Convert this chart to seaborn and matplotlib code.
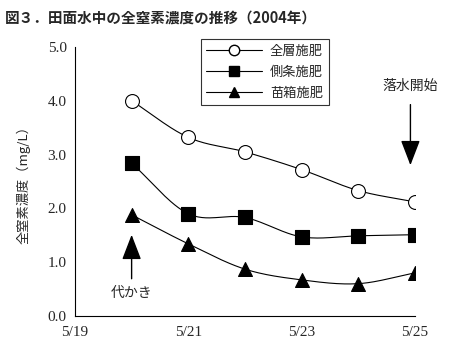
import seaborn as sns
import pandas as pd
import matplotlib.pyplot as plt
import numpy as np
from matplotlib.lines import Line2D

sns.set_theme(style='white')
plt.rcParams['font.family'] = ['Noto Sans CJK JP', 'DejaVu Sans']

# data
days = [20, 21, 22, 23, 24, 25]          # May
zenso = [4.00, 3.32, 3.05, 2.72, 2.33, 2.12]   # 全層施肥
sokujo = [2.84, 1.90, 1.83, 1.47, 1.49, 1.51]  # 側条施肥
naebako = [1.88, 1.34, 0.87, 0.67, 0.60, 0.80]  # 苗箱施肥
series = ['全層施肥', '側条施肥', '苗箱施肥']
tick_days = [19, 21, 23, 25]
tick_labels = ['5/19', '5/21', '5/23', '5/25']

x = np.array(days) - 19
df = pd.DataFrame({'x': np.tile(x, 3),
                   'y': zenso + sokujo + naebako,
                   'series': np.repeat(series, len(x))})


def smooth(px, py, n=30):
    # Catmull-Rom curve through the points (like Excel's smoothed line)
    px = np.asarray(px, float)
    py = np.asarray(py, float)
    P = np.column_stack([px, py])
    P = np.vstack([2 * P[0] - P[1], P, 2 * P[-1] - P[-2]])
    out = []
    t = np.linspace(0, 1, n)[:, None]
    for i in range(1, len(P) - 2):
        p0, p1, p2, p3 = P[i - 1], P[i], P[i + 1], P[i + 2]
        seg = 0.5 * ((2 * p1) + (-p0 + p2) * t + (2 * p0 - 5 * p1 + 4 * p2 - p3) * t ** 2
                     + (-p0 + 3 * p1 - 3 * p2 + p3) * t ** 3)
        out.append(seg)
    out = np.vstack(out)
    return out[:, 0], out[:, 1]


fig = plt.figure(figsize=(4.57, 3.53), dpi=100)
ax = fig.add_axes([0.164, 0.105, 0.744, 0.762])

for vals in [zenso, sokujo, naebako]:
    sx, sy = smooth(x, vals)
    ax.plot(sx, sy, color='black', lw=0.8, zorder=2)

markers = {'全層施肥': 'o', '側条施肥': 's', '苗箱施肥': '^'}
fills = {'全層施肥': 'white', '側条施肥': 'black', '苗箱施肥': 'black'}
for name in series:
    sub = df[df['series'] == name]
    sns.scatterplot(data=sub, x='x', y='y', marker=markers[name], s=100,
                    color=fills[name], edgecolor='black', linewidth=0.8,
                    zorder=3, ax=ax, legend=False)

ax.set_xlim(0, 6)
ax.set_ylim(0, 5)
ax.set_xticks(np.array(tick_days) - 19)
ax.set_xticklabels(tick_labels)
ax.set_yticks(np.arange(0, 5.01, 1.0))
ax.set_yticklabels([f'{v:.1f}' for v in np.arange(0, 5.01, 1.0)])
for lab in ax.get_xticklabels() + ax.get_yticklabels():
    lab.set_family(['Liberation Serif'])
    lab.set_fontsize(11)
ax.tick_params(axis='both', direction='in', length=4, width=0.8, color='black')
ax.tick_params(axis='y', pad=6)
ax.tick_params(axis='x', pad=7)
ax.set_xlabel('')
ax.set_ylabel('全窒素濃度（mg/L）', fontsize=9.5, labelpad=12)
for s in ['top', 'right']:
    ax.spines[s].set_visible(False)
for s in ['left', 'bottom']:
    ax.spines[s].set_color('black')
    ax.spines[s].set_linewidth(0.8)

# arrows
arrow = dict(arrowstyle='-|>,head_length=1.3,head_width=0.5', color='black', lw=1)
ax.annotate('', xy=(1, 1.56), xytext=(1, 0.64), arrowprops=arrow)
ax.text(1, 0.43, '代かき', ha='center', va='center', fontsize=10)
ax.annotate('', xy=(5.92, 2.75), xytext=(5.92, 3.98), arrowprops=arrow)
ax.text(5.92, 4.27, '落水開始', ha='center', va='center', fontsize=10)

handles = [Line2D([], [], color='black', lw=0.8, marker=markers[n], markersize=7.5,
                  markerfacecolor=fills[n], markeredgecolor='black') for n in series]
leg = ax.legend(handles, series, loc='upper left', bbox_to_anchor=(0.35, 1.055),
                fontsize=9.5, handlelength=4.2, frameon=True, fancybox=False,
                edgecolor='black', borderpad=0.45, labelspacing=0.6, handletextpad=0.6)
leg.get_frame().set_linewidth(0.8)

fig.text(0.01, 0.95, '図３．田面水中の全窒素濃度の推移（2004年）', fontsize=10.5,
         fontweight='bold', ha='left', va='center')

fig.savefig('out.png', dpi=100)
